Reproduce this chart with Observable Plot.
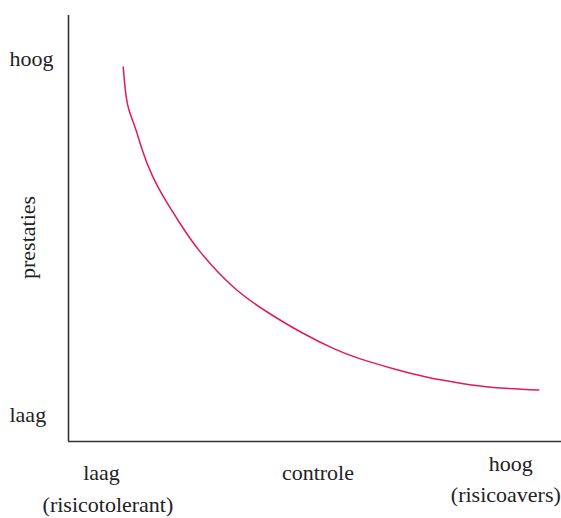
<!DOCTYPE html>
<html>
<head>
<meta charset="utf-8">
<script src="https://cdn.jsdelivr.net/npm/d3@7"></script>
<script src="https://cdn.jsdelivr.net/npm/@observablehq/plot@0.6"></script>
<style>
  html, body { margin: 0; padding: 0; background: #fff; }
  svg, svg text { font-family: "Liberation Serif", "Times New Roman", serif !important; }
</style>
</head>
<body>
<div id="chart"></div>
<script>
// Curve: control (x) vs performance (y), arbitrary 0–100 units
const controle = [11.1, 11.5, 12.2, 13.6, 15.0, 17.0, 19.7, 22.9, 26.8, 33.5, 40.3, 47.1, 53.8, 59.2, 65.9, 72.8, 79.5, 86.2, 95.4];
const prestaties = [87.9, 82.8, 78.1, 73.4, 68.3, 62.4, 56.6, 50.7, 44.4, 36.2, 30.4, 25.7, 21.8, 19.4, 17.1, 15.1, 13.7, 12.7, 12.1];

// Axis labels
const yLabels = ["hoog", "laag"];
const yLabelValues = [89.7, 6.2];
const xLabels = ["laag", "(risicotolerant)", "controle", "hoog", "(risicoavers)"];
const xLabelValues = [6.7, 8.0, 50.6, 89.7, 88.7];
const xLabelRows = [-7.5, -14.95, -7.5, -5.2, -12.6];
const yTitle = "prestaties";

const curve = controle.map((x, i) => ({x, y: prestaties[i]}));
const yLab = yLabels.map((t, i) => ({t, y: yLabelValues[i]}));
const xLab = xLabels.map((t, i) => ({t, x: xLabelValues[i], y: xLabelRows[i]}));

const font = "Liberation Serif";

const chart = Plot.plot({
  width: 561,
  height: 518,
  marginLeft: 68,
  marginRight: 0,
  marginTop: 15,
  marginBottom: 77,
  style: {fontSize: "22px", color: "#222", background: "#fff"},
  x: {domain: [0, 100], axis: null},
  y: {domain: [0, 100], axis: null},
  marks: [
    Plot.ruleX([0], {y1: 0, y2: 100, stroke: "#333", strokeWidth: 1.6}),
    Plot.ruleY([0], {x1: 0, x2: 100, stroke: "#333", strokeWidth: 1.6}),
    Plot.line(curve, {x: "x", y: "y", curve: "natural", stroke: "#e3195e", strokeWidth: 1.5}),
    Plot.text(yLab, {x: -11.97, y: "y", text: "t", textAnchor: "start", fontSize: 22, fontFamily: font, fill: "#222"}),
    Plot.text(xLab, {x: "x", y: "y", text: "t", fontSize: 22, fontFamily: font, fill: "#222"}),
    Plot.text([yTitle], {x: -8.3, y: 47.9, text: d => d, rotate: -90, fontSize: 22, fontFamily: font, fill: "#222"})
  ]
});
document.getElementById("chart").append(chart);
</script>
</body>
</html>
